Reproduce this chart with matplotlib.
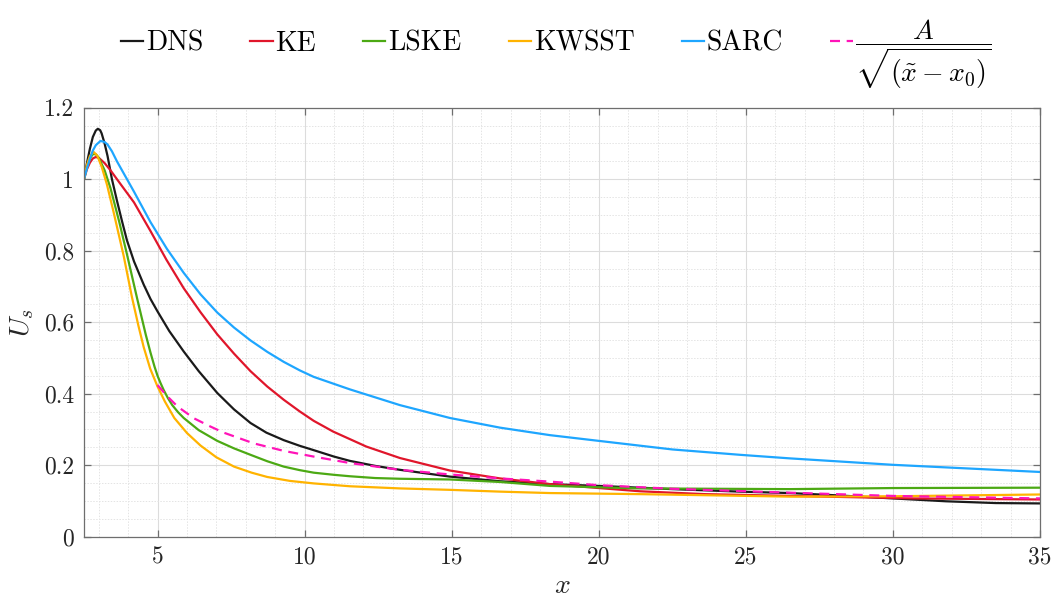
import matplotlib
matplotlib.use("Agg")
import matplotlib.pyplot as plt
from matplotlib.ticker import MultipleLocator, FixedLocator, FixedFormatter

plt.rcParams['font.family'] = 'serif'
plt.rcParams['font.serif'] = ['cmr10', 'DejaVu Serif']
plt.rcParams['mathtext.fontset'] = 'cm'
plt.rcParams['axes.formatter.use_mathtext'] = True

# ---------------- data ----------------
dns_x = [2.5, 2.6, 2.7, 2.8, 2.9, 2.97, 3.05, 3.1, 3.2, 3.3, 3.45, 3.62, 3.8, 3.96, 4.2,
         4.53, 4.76, 5.0, 5.4, 5.89, 6.4, 7.03, 7.6, 8.16, 8.7, 9.29, 9.84, 10.31, 11.0,
         11.54, 12.4, 13.24, 14.94, 16.64, 18.34, 20.0, 22.5, 24.8, 26.5, 28.0, 30.0,
         31.8, 33.5, 35.0]
dns_y = [1.0, 1.045, 1.085, 1.118, 1.136, 1.141, 1.137, 1.128, 1.10, 1.065, 1.0, 0.94,
         0.88, 0.829, 0.77, 0.705, 0.665, 0.63, 0.575, 0.518, 0.463, 0.402, 0.356, 0.318,
         0.291, 0.270, 0.254, 0.242, 0.224, 0.212, 0.198, 0.187, 0.168, 0.155, 0.147,
         0.142, 0.133, 0.126, 0.122, 0.116, 0.107, 0.099, 0.094, 0.093]

ke_x = [2.5, 2.6, 2.7, 2.8, 2.9, 3.0, 3.2, 3.4, 3.62, 4.2, 4.76, 5.3, 5.89, 6.46, 7.03,
        7.6, 8.16, 8.73, 9.29, 9.84, 10.31, 10.97, 12.1, 13.24, 14.94, 16.64, 18.34,
        20.0, 21.4, 23.6, 26.5, 30.7, 35.0]
ke_y = [1.0, 1.028, 1.046, 1.058, 1.062, 1.06, 1.045, 1.025, 1.0, 0.935, 0.855, 0.775,
        0.695, 0.628, 0.566, 0.512, 0.463, 0.420, 0.383, 0.350, 0.324, 0.294, 0.252,
        0.220, 0.185, 0.163, 0.147, 0.136, 0.127, 0.119, 0.114, 0.107, 0.104]

lske_x = [2.5, 2.6, 2.7, 2.8, 2.9, 3.0, 3.2, 3.4, 3.7, 3.96, 4.31, 4.6, 4.76, 4.9, 5.0,
          5.1, 5.21, 5.35, 5.5, 5.7, 5.89, 6.4, 7.03, 7.6, 8.16, 8.73, 9.29, 9.84,
          10.31, 11.0, 11.54, 12.4, 13.24, 14.94, 16.64, 18.34, 21.4, 26.5, 30.0, 35.0]
lske_y = [1.0, 1.035, 1.058, 1.07, 1.07, 1.06, 1.025, 0.975, 0.88, 0.79, 0.665, 0.565,
          0.515, 0.475, 0.45, 0.43, 0.41, 0.388, 0.368, 0.348, 0.332, 0.298, 0.268,
          0.247, 0.229, 0.211, 0.196, 0.186, 0.179, 0.173, 0.169, 0.164, 0.162, 0.160,
          0.153, 0.142, 0.135, 0.133, 0.136, 0.137]

kwsst_x = [2.5, 2.6, 2.7, 2.83, 2.95, 3.1, 3.28, 3.5, 3.85, 4.13, 4.35, 4.53, 4.75, 5.0,
           5.25, 5.57, 6.0, 6.46, 7.0, 7.6, 8.2, 8.73, 9.5, 10.31, 11.54, 13.24, 14.94,
           16.64, 18.34, 21.4, 26.5, 30.0, 35.0]
kwsst_y = [1.0, 1.04, 1.065, 1.076, 1.066, 1.035, 0.985, 0.91, 0.785, 0.67, 0.59, 0.53,
           0.47, 0.42, 0.378, 0.332, 0.29, 0.255, 0.222, 0.196, 0.179, 0.167, 0.156,
           0.149, 0.141, 0.135, 0.131, 0.126, 0.122, 0.119, 0.112, 0.113, 0.118]

sarc_x = [2.5, 2.6, 2.7, 2.8, 2.9, 3.06, 3.2, 3.3, 3.45, 3.62, 4.2, 4.76, 5.32, 5.89,
          6.46, 7.03, 7.6, 8.16, 8.73, 9.29, 9.84, 10.31, 11.54, 13.24, 14.94, 16.64,
          18.34, 20.0, 22.5, 24.8, 26.5, 30.0, 33.0, 35.0]
sarc_y = [1.0, 1.03, 1.057, 1.08, 1.095, 1.107, 1.104, 1.097, 1.078, 1.05, 0.965, 0.88,
          0.805, 0.738, 0.678, 0.627, 0.585, 0.549, 0.517, 0.489, 0.465, 0.447, 0.412,
          0.368, 0.332, 0.305, 0.284, 0.268, 0.244, 0.229, 0.219, 0.201, 0.189, 0.181]

fit_x = [5.0, 5.34, 5.68, 6.24, 6.8, 7.25, 8.27, 9.29, 10.31, 11.54, 13.24, 14.94,
         16.64, 18.34, 20.0, 22.5, 26.5, 30.0, 35.0]
fit_y = [0.424, 0.392, 0.364, 0.331, 0.308, 0.291, 0.261, 0.240, 0.224, 0.206, 0.187,
         0.174, 0.163, 0.154, 0.144, 0.134, 0.123, 0.114, 0.107]

labels = ['DNS', 'KE', 'LSKE', 'KWSST', 'SARC',
          r'$\dfrac{A}{\sqrt{(\tilde{x}-x_0)}}$']
colors = ['#1a1a1a', '#e0162b', '#4ca914', '#ffb300', '#1ea6ff', '#ff14b8']

xticks = [5, 10, 15, 20, 25, 30, 35]
xtick_labels = ['5', '10', '15', '20', '25', '30', '35']
yticks = [0, 0.2, 0.4, 0.6, 0.8, 1.0, 1.2]
ytick_labels = ['0', '0.2', '0.4', '0.6', '0.8', '1', '1.2']

# ---------------- figure ----------------
fig = plt.figure(figsize=(10.54, 6.03), dpi=100)
ax = fig.add_axes([0.0797, 0.110, 0.9070, 0.7114])

series = [(dns_x, dns_y), (ke_x, ke_y), (lske_x, lske_y), (kwsst_x, kwsst_y),
          (sarc_x, sarc_y)]
handles = []
for (sx, sy), c, lab in zip(series, colors[:5], labels[:5]):
    h, = ax.plot(sx, sy, color=c, lw=1.6, label=lab, solid_joinstyle='round')
    handles.append(h)
hf, = ax.plot(fit_x, fit_y, color=colors[5], lw=1.6, dashes=(4.5, 3), label=labels[5])
handles.append(hf)

ax.set_xlim(2.5, 35)
ax.set_ylim(0, 1.2)
ax.xaxis.set_major_locator(FixedLocator(xticks))
ax.xaxis.set_major_formatter(FixedFormatter(xtick_labels))
ax.yaxis.set_major_locator(FixedLocator(yticks))
ax.yaxis.set_major_formatter(FixedFormatter(ytick_labels))
ax.xaxis.set_minor_locator(MultipleLocator(1))
ax.yaxis.set_minor_locator(MultipleLocator(0.05))

ax.grid(which='major', color='#dcdcdc', lw=0.8, ls='-')
ax.grid(which='minor', color='#e4e4e4', lw=0.7, ls=(0, (1.5, 1.5)))
ax.set_axisbelow(True)

for s in ax.spines.values():
    s.set_color('#6e6e6e')
    s.set_linewidth(0.9)
ax.tick_params(which='major', direction='in', top=True, right=True, length=5,
               width=0.9, color='#6e6e6e', labelsize=17, labelcolor='#262626', pad=7)
ax.tick_params(which='minor', length=0, top=True, right=True)

ax.set_xlabel(r'$x$', fontsize=20, color='#262626', labelpad=3)
ax.set_ylabel(r'$U_s$', fontsize=20, color='#262626', labelpad=6)

fig.legend(handles=handles, labels=labels, loc='center', bbox_to_anchor=(0.528, 0.91),
           ncol=6, frameon=False, fontsize=20, handlelength=0.8, handletextpad=0.1,
           columnspacing=1.7)

fig.savefig('out.png', dpi=100)
